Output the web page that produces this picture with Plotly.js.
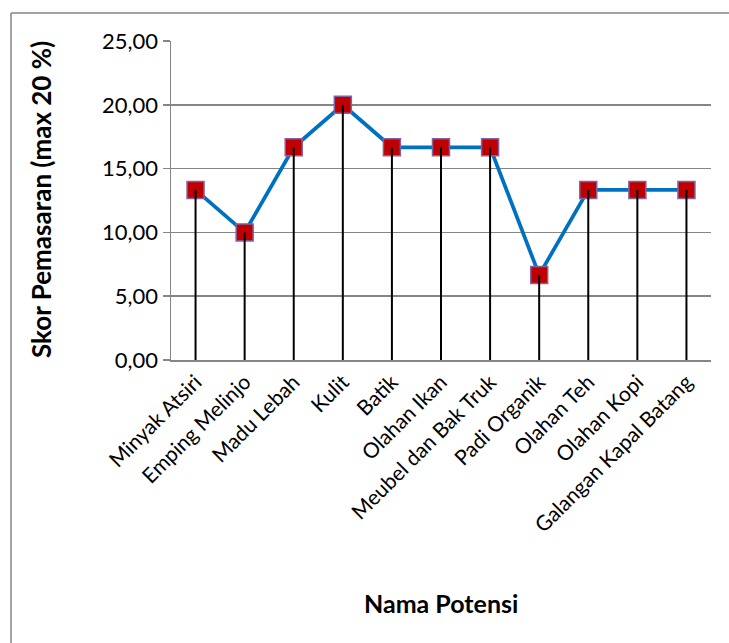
<!DOCTYPE html>
<html>
<head>
<meta charset="utf-8">
<script src="https://cdn.plot.ly/plotly-3.0.1.min.js"></script>
<style>
html,body{margin:0;padding:0;background:#fff;}
#chart{width:729px;height:643px;}
</style>
</head>
<body>
<div id="chart"></div>
<script>
const categories = ["Minyak Atsiri","Emping Melinjo","Madu Lebah","Kulit","Batik","Olahan Ikan","Meubel dan Bak Truk","Padi Organik","Olahan Teh","Olahan Kopi","Galangan Kapal Batang"];
const scores = [13.33, 10.00, 16.67, 20.00, 16.67, 16.67, 16.67, 6.67, 13.33, 13.33, 13.33];
const yTitle = "Skor Pemasaran (max 20 %)";
const xTitle = "Nama Potensi";

const W = 729, H = 643;
const m = {l:171, r:18, t:41, b:283};
const pw = W - m.l - m.r, ph = H - m.t - m.b;
const px = v => (v - m.l) / pw;          // pixel x -> paper x
const py = v => (H - m.b - v) / ph;      // pixel y -> paper y

// drop lines from each point down to zero
const dropX = [], dropY = [];
categories.forEach((c, i) => { dropX.push(c, c, null); dropY.push(0, scores[i], null); });

const font = "Lato, 'Open Sans', sans-serif";

const traces = [
  {
    x: categories, y: scores, type: 'scatter', mode: 'lines+markers',
    line: {color: '#0070C0', width: 3.75},
    marker: {symbol: 'square', size: 17, color: '#C00000', line: {color: '#8064A2', width: 1.5}},
    hoverinfo: 'none', showlegend: false
  },
  {
    x: dropX, y: dropY, type: 'scatter', mode: 'lines',
    line: {color: '#000000', width: 2},
    hoverinfo: 'none', showlegend: false, connectgaps: false
  }
];

const layout = {
  width: W, height: H,
  margin: m,
  paper_bgcolor: '#ffffff', plot_bgcolor: '#ffffff',
  separators: ',.',
  font: {family: font, size: 22, color: '#000'},
  showlegend: false,
  xaxis: {
    type: 'category',
    range: [-0.5, categories.length - 0.5],
    tickangle: -45,
    showline: true, linecolor: '#868686', linewidth: 1.5,
    showgrid: false, zeroline: false, ticks: '',
    tickfont: {family: font, size: 21, color: '#000'},
    automargin: false
  },
  yaxis: {
    range: [0, 25], dtick: 5, tick0: 0,
    tickformat: '.2f',
    showline: true, linecolor: '#868686', linewidth: 1.5,
    showgrid: true, gridcolor: '#868686', gridwidth: 1.5,
    zeroline: false,
    ticks: 'outside', ticklen: 7, tickcolor: '#868686', tickwidth: 1.5,
    tickfont: {family: font, size: 22, color: '#000'},
    automargin: false
  },
  annotations: [
    {text: '<b>' + xTitle + '</b>', xref: 'paper', yref: 'paper', x: px(441), y: py(603),
     xanchor: 'center', yanchor: 'middle', showarrow: false,
     font: {family: font, size: 25, color: '#000'}},
    {text: '<b>' + yTitle + '</b>', xref: 'paper', yref: 'paper', x: px(41), y: py(200),
     xanchor: 'center', yanchor: 'middle', showarrow: false, textangle: -90,
     font: {family: font, size: 26, color: '#000'}}
  ],
  shapes: [
    {type: 'line', xref: 'paper', yref: 'paper',
     x0: px(11), x1: px(11), y0: py(13), y1: py(H + 20),
     line: {color: '#868686', width: 1.5}},
    {type: 'line', xref: 'paper', yref: 'paper',
     x0: px(11), x1: px(W + 20), y0: py(13), y1: py(13),
     line: {color: '#868686', width: 1.5}}
  ]
};

Plotly.newPlot('chart', traces, layout, {staticPlot: true, displayModeBar: false});
</script>
</body>
</html>
